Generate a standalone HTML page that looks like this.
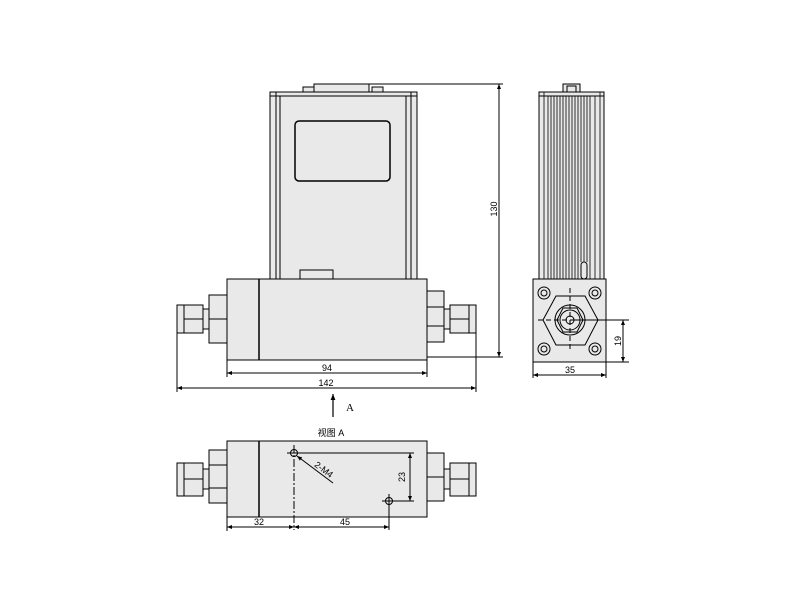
<!DOCTYPE html>
<html><head><meta charset="utf-8"><style>
html,body{margin:0;padding:0;background:#fff;}
svg{display:block;}
text{font-family:"Liberation Sans","Noto Sans CJK SC",sans-serif;fill:#000;}
</style></head><body>
<svg width="800" height="600" viewBox="0 0 800 600" xmlns="http://www.w3.org/2000/svg">
<defs>
<marker id="ar" viewBox="0 0 10 10" refX="10" refY="5" markerWidth="7" markerHeight="5" orient="auto-start-reverse"><path d="M0,1 L10,5 L0,9 z" fill="#000"/></marker>
</defs>
<g stroke="#000" stroke-width="1" fill="#e9e9e9">
<!-- FRONT VIEW -->
<rect x="303" y="87" width="11" height="5"/>
<rect x="372" y="87" width="11" height="5"/>
<rect x="314" y="84" width="55" height="8"/>
<rect x="270" y="92" width="147" height="187"/>
<line x1="270" y1="96" x2="417" y2="96"/>
<line x1="276" y1="92" x2="276" y2="279"/><line x1="280" y1="96" x2="280" y2="279"/>
<line x1="406" y1="96" x2="406" y2="279"/><line x1="411" y1="92" x2="411" y2="279"/>
<rect x="295" y="121" width="95" height="60" rx="4" stroke-width="1.5"/>
<rect x="300" y="270" width="33" height="9"/>
<rect x="227" y="279" width="200" height="81"/>
<line x1="259" y1="279" x2="259" y2="360" stroke-width="1.5"/>
<!-- left fitting -->
<rect x="209" y="295" width="18" height="48"/>
<line x1="209" y1="319" x2="227" y2="319"/>
<rect x="203" y="309" width="6" height="20"/>
<rect x="177" y="305" width="26" height="28"/>
<line x1="184" y1="305" x2="184" y2="333"/>
<line x1="184" y1="319" x2="203" y2="319"/>
<!-- right fitting -->
<rect x="427" y="291" width="17" height="51"/>
<line x1="427" y1="307" x2="444" y2="307"/><line x1="427" y1="326" x2="444" y2="326"/>
<rect x="444" y="309" width="6" height="20"/>
<rect x="450" y="305" width="26" height="28"/>
<line x1="469" y1="305" x2="469" y2="333"/>
<line x1="450" y1="319" x2="469" y2="319"/>

<!-- SIDE VIEW -->
<rect x="563" y="84" width="17" height="8"/>
<rect x="567" y="86" width="9" height="6"/>
<rect x="539" y="92" width="65" height="187"/>
<line x1="539" y1="96" x2="604" y2="96"/>
<rect x="533" y="279" width="73" height="83"/>
</g>
<g stroke="#000" stroke-width="0.8">
<line x1="544" y1="92" x2="544" y2="279"/><line x1="548" y1="96" x2="548" y2="279"/>
<line x1="551" y1="96" x2="551" y2="279"/><line x1="554" y1="96" x2="554" y2="279"/>
<line x1="557" y1="96" x2="557" y2="279"/><line x1="560" y1="96" x2="560" y2="279"/>
<line x1="563" y1="96" x2="563" y2="279"/><line x1="566" y1="96" x2="566" y2="279"/>
<line x1="569" y1="96" x2="569" y2="279"/><line x1="572" y1="96" x2="572" y2="279"/>
<line x1="575" y1="96" x2="575" y2="279"/><line x1="578" y1="96" x2="578" y2="279"/>
<line x1="581" y1="96" x2="581" y2="262"/><line x1="584" y1="96" x2="584" y2="262"/>
<line x1="587" y1="96" x2="587" y2="262"/><line x1="590" y1="96" x2="590" y2="279"/>
<line x1="595" y1="96" x2="595" y2="279"/><line x1="600" y1="92" x2="600" y2="279"/>
</g>
<rect x="581" y="262" width="6" height="17" rx="3" stroke="#000" fill="#e9e9e9"/>
<g stroke="#000" stroke-width="1" fill="none">
<circle cx="544" cy="293" r="6"/><circle cx="544" cy="293" r="3"/>
<circle cx="595" cy="293" r="6"/><circle cx="595" cy="293" r="3"/>
<circle cx="544" cy="349" r="6"/><circle cx="544" cy="349" r="3"/>
<circle cx="595" cy="349" r="6"/><circle cx="595" cy="349" r="3"/>
<polygon points="543,320 556,296 585,296 598,320 585,345 556,345"/>
<circle cx="570" cy="320" r="15"/>
<polygon points="557,320 563,308 577,308 583,320 577,332 563,332"/>
<circle cx="570" cy="320" r="10"/>
<circle cx="570" cy="320" r="4"/>
<line x1="570" y1="288" x2="570" y2="352" stroke-dasharray="5,3"/>
<line x1="538" y1="320" x2="570" y2="320" stroke-dasharray="5,3"/>
</g>
<g stroke="#000" stroke-width="1" fill="none">
<line x1="570" y1="320" x2="629" y2="320"/>
<line x1="606" y1="362" x2="629" y2="362"/>
<line x1="623" y1="320" x2="623" y2="362" marker-start="url(#ar)" marker-end="url(#ar)"/>
<line x1="533" y1="362" x2="533" y2="378"/>
<line x1="606" y1="362" x2="606" y2="378"/>
<line x1="533" y1="375" x2="606" y2="375" marker-start="url(#ar)" marker-end="url(#ar)"/>
<line x1="369" y1="84" x2="503" y2="84"/>
<line x1="427" y1="357" x2="503" y2="357"/>
<line x1="499" y1="84" x2="499" y2="357" marker-start="url(#ar)" marker-end="url(#ar)"/>
<line x1="227" y1="360" x2="227" y2="377"/>
<line x1="427" y1="360" x2="427" y2="377"/>
<line x1="227" y1="373" x2="427" y2="373" marker-start="url(#ar)" marker-end="url(#ar)"/>
<line x1="177" y1="333" x2="177" y2="392"/>
<line x1="476" y1="333" x2="476" y2="392"/>
<line x1="177" y1="388" x2="476" y2="388" marker-start="url(#ar)" marker-end="url(#ar)"/>
<line x1="333" y1="417" x2="333" y2="394" stroke-width="1.2" marker-end="url(#ar)"/>
</g>
<text x="570" y="373" font-size="9" text-anchor="middle">35</text>
<text x="621" y="341" font-size="9" text-anchor="middle" transform="rotate(-90 621 341)">19</text>
<text x="497" y="209" font-size="9" text-anchor="middle" transform="rotate(-90 497 209)">130</text>
<text x="327" y="371" font-size="9" text-anchor="middle">94</text>
<text x="326" y="386" font-size="9" text-anchor="middle">142</text>
<text x="346" y="411" font-size="11" style="font-family:'Liberation Serif',serif">A</text>

<text x="331" y="436" font-size="9" text-anchor="middle">视图 A</text>
<g stroke="#000" stroke-width="1" fill="#e9e9e9">
<rect x="227" y="441" width="200" height="76"/>
<line x1="259" y1="441" x2="259" y2="517" stroke-width="1.5"/>
<rect x="209" y="450" width="18" height="53"/>
<line x1="209" y1="465" x2="227" y2="465"/><line x1="209" y1="488" x2="227" y2="488"/>
<rect x="203" y="469" width="6" height="20"/>
<rect x="177" y="463" width="26" height="33"/>
<line x1="184" y1="463" x2="184" y2="496"/>
<line x1="184" y1="479" x2="203" y2="479"/>
<rect x="427" y="453" width="17" height="48"/>
<line x1="427" y1="477" x2="444" y2="477"/>
<rect x="444" y="469" width="6" height="20"/>
<rect x="450" y="463" width="26" height="33"/>
<line x1="469" y1="463" x2="469" y2="496"/>
<line x1="450" y1="479" x2="469" y2="479"/>
</g>
<g stroke="#000" stroke-width="1" fill="none">
<circle cx="294" cy="453" r="3.5"/>
<line x1="287" y1="453" x2="414" y2="453"/>
<line x1="294" y1="445" x2="294" y2="530" stroke-dasharray="8,2,2,2"/>
<circle cx="389" cy="501" r="3.5"/>
<line x1="382" y1="501" x2="396" y2="501"/>
<line x1="389" y1="494" x2="389" y2="530"/>
<line x1="394" y1="501" x2="414" y2="501"/>
<line x1="410" y1="453" x2="410" y2="501" marker-start="url(#ar)" marker-end="url(#ar)"/>
<line x1="333" y1="483" x2="297" y2="456" marker-end="url(#ar)"/>
<line x1="227" y1="517" x2="227" y2="531"/>
<line x1="227" y1="527" x2="294" y2="527" marker-start="url(#ar)" marker-end="url(#ar)"/>
<line x1="294" y1="527" x2="389" y2="527" marker-start="url(#ar)" marker-end="url(#ar)"/>
</g>
<text x="405" y="477" font-size="9" text-anchor="middle" transform="rotate(-90 405 477)">23</text>
<text x="322" y="472" font-size="9" text-anchor="middle" transform="rotate(37 322 472)">2-M4</text>
<text x="259" y="525" font-size="9" text-anchor="middle">32</text>
<text x="345" y="525" font-size="9" text-anchor="middle">45</text>
</svg>
</body></html>
